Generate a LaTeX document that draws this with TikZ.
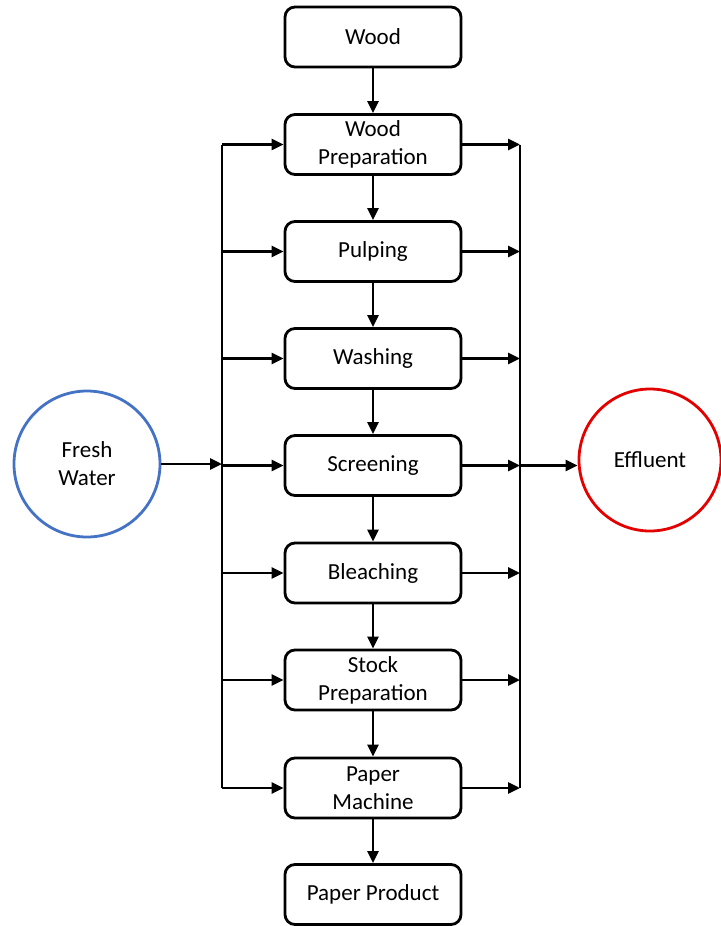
\documentclass[tikz,border=0pt]{standalone}
\usepackage{fontspec}
\setmainfont{Carlito}
\usetikzlibrary{arrows.meta,calc}
\begin{document}
\begin{tikzpicture}[x=1pt,y=-1pt,
  stage/.style={draw=black,line width=2.8pt,rounded corners=10pt,minimum width=176pt,minimum height=60pt,
    align=center,font=\fontsize{23}{28}\selectfont,inner sep=2pt},
  tank/.style={circle,line width=2.8pt,minimum size=146pt,align=center,font=\fontsize{23}{28}\selectfont},
  flow/.style={line width=2.8pt,-{Triangle[length=12pt,width=11pt]}},
  bus/.style={line width=2.8pt}]
\useasboundingbox (0,0) rectangle (720,926);
% process chain
\node[stage] (wood) at (373,37) {Wood};
\node[stage] (prep) at (373,144.5) {Wood\\Preparation};
\node[stage] (pulp) at (373,251.5) {Pulping};
\node[stage] (wash) at (373,358.5) {Washing};
\node[stage] (scr) at (373,465.5) {Screening};
\node[stage] (bleach) at (373,573) {Bleaching};
\node[stage] (stock) at (373,680) {Stock\\Preparation};
\node[stage] (pm) at (373,788) {Paper\\Machine};
\node[stage] (prod) at (373,894.5) {Paper Product};
% water in and out
\node[tank,draw={rgb,255:red,68;green,114;blue,196}] (fw) at (87,464) {Fresh\\Water};
\node[tank,draw=red!90!black,minimum size=142pt] (eff) at (650,460) {Effluent};
% main chain arrows
\foreach \a/\b in {wood/prep,prep/pulp,pulp/wash,wash/scr,scr/bleach,bleach/stock,stock/pm,pm/prod}
  \draw[flow] (\a.south) -- (\b.north);
% supply and collection headers
\coordinate (lt) at (222,144.5);
\coordinate (lb) at (222,788);
\coordinate (rt) at (520,144.5);
\coordinate (rb) at (520,788);
\draw[bus] (lt) -- (lb);
\draw[bus] (rt) -- (rb);
\foreach \s in {prep,pulp,wash,scr,bleach,stock,pm}{
  \draw[flow] (lt |- \s.west) -- (\s.west);
  \draw[flow] (\s.east) -- (rt |- \s.east);
}
\coordinate (fwin) at (lt |- fw.east);
\draw[flow] (fw.east) -- (fwin);
\coordinate (effout) at (rt |- scr.east);
\draw[flow] (effout) -- (eff.west |- effout);
\end{tikzpicture}
\end{document}
